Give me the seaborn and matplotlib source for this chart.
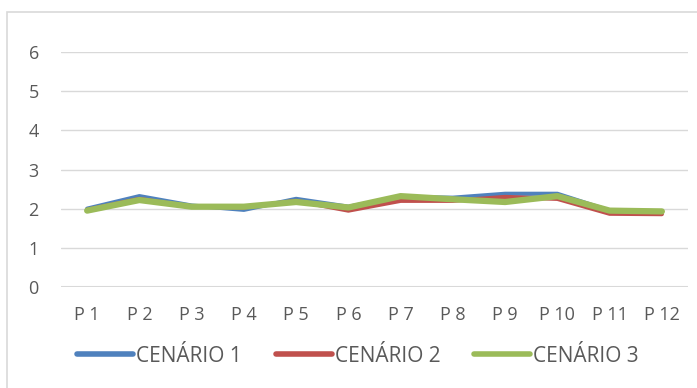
import pandas as pd
import matplotlib.pyplot as plt
import seaborn as sns
from matplotlib.patches import Rectangle

# Dados
pontos = ['P 1', 'P 2', 'P 3', 'P 4', 'P 5', 'P 6', 'P 7', 'P 8', 'P 9', 'P 10', 'P 11', 'P 12']
cenario1 = [2.00, 2.32, 2.08, 1.97, 2.25, 2.05, 2.30, 2.28, 2.38, 2.38, 1.95, 1.93]
cenario2 = [1.97, 2.25, 2.05, 2.03, 2.20, 1.95, 2.20, 2.20, 2.30, 2.25, 1.87, 1.86]
cenario3 = [1.95, 2.22, 2.05, 2.05, 2.17, 2.03, 2.32, 2.24, 2.17, 2.32, 1.95, 1.93]
series = ['CENÁRIO 1', 'CENÁRIO 2', 'CENÁRIO 3']
cores = ['#4F81BD', '#C0504D', '#9BBB59']

df = pd.DataFrame({'ponto': pontos * 3,
                   'valor': cenario1 + cenario2 + cenario3,
                   'serie': [s for s in series for _ in pontos]})

sns.set_theme(style="white")
plt.rcParams['font.family'] = ['Open Sans', 'DejaVu Sans']
texto = '#595959'

fig = plt.figure(figsize=(6.97, 3.88), dpi=100)
ax = fig.add_axes([61 / 697, 1 - 287 / 388, 627 / 697, 235 / 388])

# moldura do grafico
fig.patches.append(Rectangle((7 / 697, -0.1), 1.2, 1 - 12 / 388 + 0.1, transform=fig.transFigure,
                             fill=False, edgecolor='#D9D9D9', linewidth=1.2))

sns.lineplot(data=df, x='ponto', y='valor', hue='serie', palette=cores, ax=ax,
             sort=False, legend=False)
for ln, lw in zip(ax.lines, [3, 3, 4.5]):
    ln.set_linewidth(lw)
    ln.set_solid_capstyle('round')
    ln.set_solid_joinstyle('round')

ax.set_xlim(-0.5, len(pontos) - 0.5)
ax.set_ylim(0, 6)
ax.set_yticks(range(0, 7))
ax.yaxis.grid(True, color='#D9D9D9', linewidth=1)
ax.set_axisbelow(True)
for s in ax.spines.values():
    s.set_visible(False)
ax.axhline(0, color='#D9D9D9', linewidth=1.5, zorder=1)
ax.set_xlabel('')
ax.set_ylabel('')
ax.tick_params(axis='both', length=0, labelsize=13, colors=texto)
ax.tick_params(axis='x', pad=14)
ax.tick_params(axis='y', pad=16)

handles = [plt.Line2D([], [], color=c, linewidth=4, solid_capstyle='round') for c in cores]
fig.legend(handles, series, loc='center', bbox_to_anchor=(358 / 697, 1 - 356 / 388), ncol=3,
           frameon=False, fontsize=15, labelcolor=texto, handlelength=2.7,
           handletextpad=0.15, columnspacing=1.6)

plt.savefig('out.png', dpi=100)
